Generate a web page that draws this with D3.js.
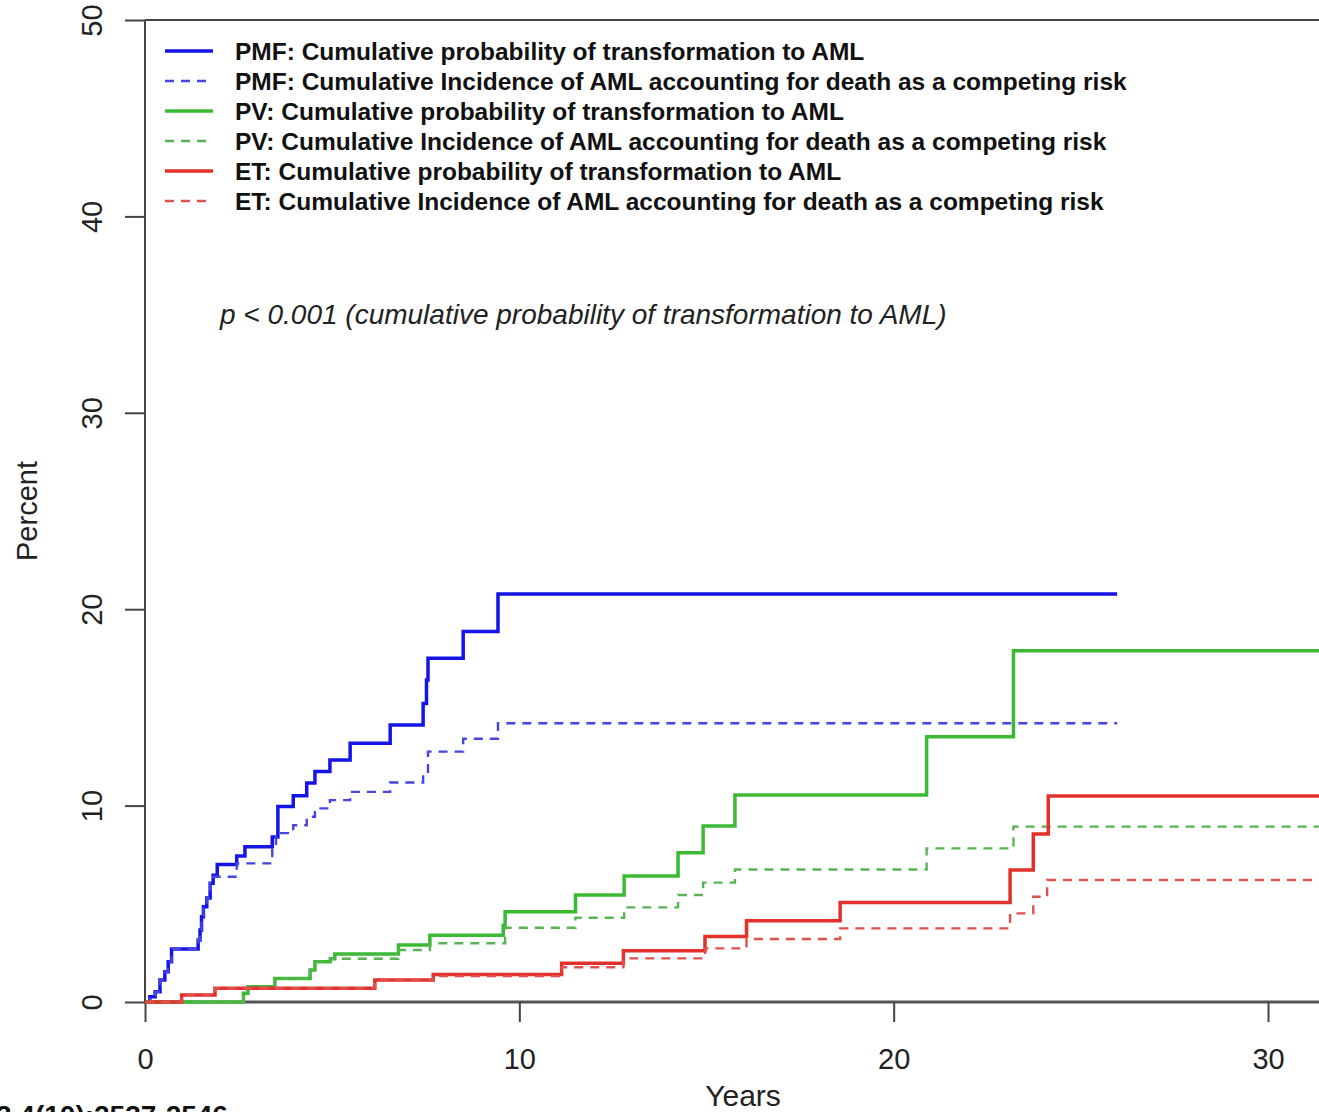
<!DOCTYPE html>
<html>
<head>
<meta charset="utf-8">
<script src="https://cdn.jsdelivr.net/npm/d3@7"></script>
<style>
  body { margin: 0; background: #fff; }
  svg { display: block; font-family: "Liberation Sans", Arial, sans-serif; }
</style>
</head>
<body>
<script>
// step curves: years at which the curve jumps and the percent after the jump
var pmfYears   = [0, 0.13, 0.27, 0.4, 0.53, 0.62, 0.71, 1.42, 1.47, 1.51, 1.56, 1.65, 1.74, 1.82, 1.93, 2.45, 2.67, 3.4, 3.55, 3.96, 4.32, 4.54, 4.94, 5.48, 6.55, 7.43, 7.52, 7.56, 8.5, 9.43, 25.97];
var pmfPct     = [0, 0.27, 0.52, 1.12, 1.54, 2.05, 2.7, 3.16, 3.67, 4.34, 4.85, 5.3, 6.05, 6.46, 7.0, 7.43, 7.9, 8.4, 9.95, 10.5, 11.15, 11.73, 12.32, 13.18, 14.1, 15.2, 16.4, 17.5, 18.86, 20.77, 20.77];
var pmfCiYears = [0, 0.13, 0.27, 0.4, 0.53, 0.62, 0.71, 1.42, 1.47, 1.51, 1.56, 1.65, 1.74, 1.82, 2.45, 3.4, 3.5, 3.96, 4.32, 4.54, 4.94, 5.48, 6.55, 7.43, 7.56, 8.5, 9.43, 25.97];
var pmfCiPct   = [0, 0.27, 0.52, 1.12, 1.54, 2.05, 2.7, 3.16, 3.67, 4.34, 4.85, 5.3, 6.05, 6.38, 7.06, 7.9, 8.6, 9.0, 9.43, 9.86, 10.28, 10.7, 11.18, 11.65, 12.75, 13.4, 14.19, 14.19];

var pvYears    = [0, 2.63, 2.75, 3.47, 4.41, 4.54, 4.95, 5.07, 6.77, 7.61, 9.57, 9.62, 11.5, 12.8, 14.24, 14.91, 15.76, 20.88, 23.2, 31.6];
var pvPct      = [0, 0.45, 0.78, 1.2, 1.63, 2.05, 2.2, 2.45, 2.9, 3.4, 3.9, 4.6, 5.45, 6.42, 7.6, 8.96, 10.54, 13.51, 17.89, 17.89];
var pvCiYears  = [0, 2.63, 2.75, 3.47, 4.41, 4.54, 4.95, 6.77, 7.61, 9.62, 11.5, 12.8, 14.24, 14.91, 15.76, 20.88, 23.2, 31.6];
var pvCiPct    = [0, 0.45, 0.78, 1.2, 1.63, 2.05, 2.2, 2.65, 2.99, 3.78, 4.29, 4.82, 5.45, 6.08, 6.75, 7.82, 8.93, 8.93];

var etYears    = [0, 0.98, 1.87, 6.14, 7.7, 11.13, 12.78, 14.96, 16.07, 18.57, 23.11, 23.73, 24.13, 31.6];
var etPct      = [0, 0.36, 0.7, 1.12, 1.4, 1.97, 2.61, 3.33, 4.14, 5.06, 6.72, 8.55, 10.49, 10.49];
var etCiYears  = [0, 0.98, 1.87, 6.14, 7.7, 11.13, 12.78, 14.96, 16.07, 18.57, 23.11, 23.73, 24.1, 31.6];
var etCiPct    = [0, 0.36, 0.7, 1.1, 1.32, 1.77, 2.22, 2.73, 3.21, 3.75, 4.51, 5.36, 6.21, 6.21];

var legendLabels = [
  "PMF: Cumulative probability of transformation to AML",
  "PMF: Cumulative Incidence of AML accounting for death as a competing risk",
  "PV: Cumulative probability of transformation to AML",
  "PV: Cumulative Incidence of AML accounting for death as a competing risk",
  "ET: Cumulative probability of transformation to AML",
  "ET: Cumulative Incidence of AML accounting for death as a competing risk"
];
var xTicks = [0, 10, 20, 30];
var yTicks = [0, 10, 20, 30, 40, 50];

var W = 1319, H = 1112;
var svg = d3.select("body").append("svg").attr("width", W).attr("height", H);

var x = d3.scaleLinear().domain([0, 30]).range([145, 1268]);
var y = d3.scaleLinear().domain([0, 50]).range([1002, 20]);

function zipPts(xs, ys) {
  return xs.map(function (d, i) { return [d, ys[i]]; });
}

var series = [
  { pts: zipPts(pmfYears, pmfPct),     color: "#1414e8", width: 3.5, dash: null },
  { pts: zipPts(pmfCiYears, pmfCiPct), color: "#4545e0", width: 2.4, dash: "9,7" },
  { pts: zipPts(pvYears, pvPct),       color: "#3cba34", width: 3.5, dash: null },
  { pts: zipPts(pvCiYears, pvCiPct),   color: "#58b452", width: 2.4, dash: "9,7" },
  { pts: zipPts(etYears, etPct),       color: "#e2302a", width: 3.5, dash: null },
  { pts: zipPts(etCiYears, etCiPct),   color: "#e05050", width: 2.4, dash: "9,7" }
];

// axes
var axisColor = "#444";
svg.append("line").attr("x1", 145).attr("x2", 145).attr("y1", 20).attr("y2", 1002)
  .attr("stroke", axisColor).attr("stroke-width", 2);
svg.append("line").attr("x1", 145).attr("x2", W).attr("y1", 20).attr("y2", 20)
  .attr("stroke", axisColor).attr("stroke-width", 2);
svg.append("line").attr("x1", 145).attr("x2", W).attr("y1", 1002).attr("y2", 1002)
  .attr("stroke", "#555").attr("stroke-width", 3);

var yAxis = svg.append("g").attr("transform", "translate(145,0)")
  .call(d3.axisLeft(y).tickValues(yTicks).tickSize(20).tickSizeOuter(0).tickPadding(0));
yAxis.select(".domain").remove();
yAxis.selectAll(".tick line").attr("stroke", axisColor).attr("stroke-width", 2);
yAxis.selectAll(".tick text").remove();
yAxis.selectAll(".tick").append("text")
  .attr("transform", "translate(-43,0) rotate(-90)")
  .attr("text-anchor", "middle")
  .attr("fill", "#222")
  .style("font-size", "29px")
  .text(function (d) { return d; });

var xAxis = svg.append("g").attr("transform", "translate(0,1002)")
  .call(d3.axisBottom(x).tickValues(xTicks).tickSize(20).tickSizeOuter(0).tickPadding(0));
xAxis.select(".domain").remove();
xAxis.selectAll(".tick line").attr("stroke", axisColor).attr("stroke-width", 2);
xAxis.selectAll(".tick text").attr("y", 67).attr("dy", null)
  .attr("fill", "#222").style("font-size", "29px");

svg.append("text").attr("x", 743).attr("y", 1106).attr("text-anchor", "middle")
  .attr("fill", "#222").style("font-size", "30px").text("Years");
svg.append("text").attr("transform", "translate(37,511) rotate(-90)")
  .attr("text-anchor", "middle").attr("fill", "#222").style("font-size", "29px").text("Percent");

// curves
var line = d3.line()
  .x(function (d) { return x(d[0]); })
  .y(function (d) { return y(d[1]); })
  .curve(d3.curveStepAfter);

svg.append("g").selectAll("path")
  .data(series)
  .enter()
  .append("path")
  .attr("d", function (d) { return line(d.pts); })
  .attr("fill", "none")
  .attr("stroke", function (d) { return d.color; })
  .attr("stroke-width", function (d) { return d.width; })
  .attr("stroke-dasharray", function (d) { return d.dash; });

// legend
var legend = svg.append("g").selectAll("g")
  .data(series)
  .enter()
  .append("g")
  .attr("transform", function (d, i) { return "translate(0," + (51 + i * 30) + ")"; });
legend.append("line")
  .attr("x1", 165).attr("x2", 213).attr("y1", 0).attr("y2", 0)
  .attr("stroke", function (d) { return d.color; })
  .attr("stroke-width", function (d) { return d.width; })
  .attr("stroke-dasharray", function (d) { return d.dash; });
legend.append("text")
  .attr("x", 235).attr("y", 9)
  .attr("fill", "#111")
  .style("font-size", "24.5px").style("font-weight", "bold")
  .text(function (d, i) { return legendLabels[i]; });

svg.append("text").attr("x", 220).attr("y", 324)
  .attr("fill", "#222").style("font-size", "28px").style("font-style", "italic")
  .text("p < 0.001 (cumulative probability of transformation to AML)");

// citation cut off at the bottom edge
svg.append("text").attr("x", -4).attr("y", 1125)
  .attr("fill", "#111").style("font-size", "28px").style("font-weight", "bold")
  .text("3.4(10):2537-2546");
</script>
</body>
</html>
